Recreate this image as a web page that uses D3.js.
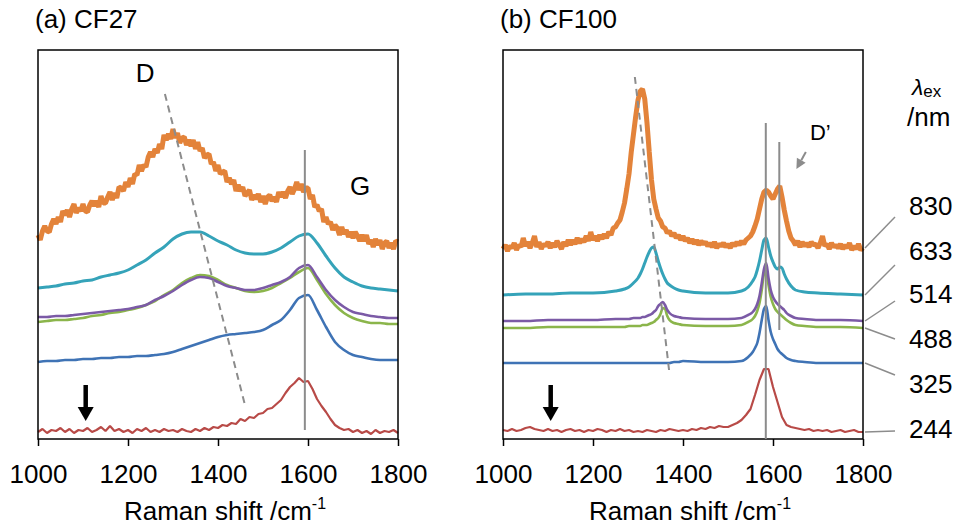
<!DOCTYPE html>
<html>
<head>
<meta charset="utf-8">
<script src="https://cdn.jsdelivr.net/npm/d3@7"></script>
<style>
  body { margin: 0; background: #fff; }
  text { font-family: "Liberation Sans", Arial, sans-serif; fill: #000; }
</style>
</head>
<body>
<svg id="chart" width="958" height="528"></svg>
<script>
// Raman spectra of two carbon fibres at six excitation wavelengths.
// Intensities are arbitrary units with the vertical stacking offset already in.

const panelTitles = ['(a) CF27', '(b) CF100'];
const tickValues = [1000, 1200, 1400, 1600, 1800];
const lambdaLabels = ['830', '633', '514', '488', '325', '244'];

// wavenumber grids (cm-1)
const shiftFine = d3.range(1000, 1801, 5);
const shiftMid = d3.range(1000, 1801, 10);
const shiftA = d3.range(1000, 1801, 20);
const shiftB = [1000, 1050, 1100, 1150, 1200, 1250, 1270, 1280, 1290, 1300,
  1305, 1310, 1315, 1320, 1325, 1330, 1335, 1340, 1345, 1350, 1355, 1360, 1365, 1370,
  1380, 1390, 1400, 1450, 1500, 1530,
  1545, 1555, 1560, 1565, 1570, 1575, 1580, 1585, 1590, 1595, 1600, 1605, 1610,
  1615, 1620, 1625, 1630, 1640, 1650, 1670, 1700, 1750, 1800];

// (a) CF27
const cf27_830 = [
  204, 199, 208, 213, 208, 207, 215, 220, 215, 222,
  217, 228, 224, 229, 222, 230, 235, 226, 231, 228,
  235, 228, 227, 234, 238, 233, 238, 232, 243, 236,
  236, 242, 247, 239, 246, 241, 252, 251, 248, 257,
  252, 261, 255, 265, 264, 274, 268, 274, 272, 282,
  287, 282, 290, 286, 295, 290, 304, 299, 305, 300,
  310, 301, 306, 296, 301, 302, 294, 299, 293, 299,
  290, 297, 288, 291, 281, 284, 285, 275, 277, 268,
  274, 265, 267, 268, 257, 261, 255, 259, 248, 254,
  248, 252, 243, 246, 249, 239, 244, 240, 245, 237,
  243, 235, 242, 244, 238, 242, 237, 247, 242, 247,
  241, 248, 252, 245, 250, 257, 249, 255, 247, 251,
  251, 240, 244, 232, 234, 228, 230, 217, 222, 215,
  217, 209, 214, 211, 204, 212, 205, 209, 202, 207,
  201, 207, 203, 198, 204, 198, 204, 195, 199, 192,
  200, 194, 199, 190, 196, 198, 191, 196, 190, 198,
  197];
const cf27_633 = [151, 152, 153, 155, 156, 158, 159, 162, 164, 166,
  169, 174, 179, 186, 192, 200, 205, 207, 207, 203,
  198, 194, 189, 186, 185, 185, 187, 191, 197, 203,
  205, 196, 183, 171, 162, 157, 153, 151, 150, 149, 148];
const cf27_514 = [122, 122, 123, 123, 124, 125, 126, 127, 128, 129,
  130, 132, 134, 139, 143, 148, 154, 159, 162, 161,
  157, 153, 151, 149, 149, 151, 154, 157, 162, 171,
  174, 162, 149, 139, 132, 127, 125, 123, 122, 121, 121];
const cf27_488 = [117, 118, 119, 119, 120, 121, 123, 124, 126, 127,
  129, 131, 134, 138, 144, 149, 156, 161, 164, 163,
  159, 154, 151, 148, 147, 148, 151, 156, 161, 167,
  171, 159, 145, 134, 126, 121, 118, 116, 116, 115, 115];
const cf27_325 = [77, 78, 78, 79, 79, 80, 80, 81, 81, 82,
  82, 83, 83, 84, 85, 87, 90, 93, 96, 99,
  102, 104, 105, 106, 107, 109, 114, 119, 129, 141,
  144, 129, 112, 97, 89, 84, 82, 80, 79, 79, 79];
const cf27_244 = [
  7, 10, 6, 9, 8, 11, 7, 10, 6, 9,
  8, 11, 7, 9, 12, 8, 13, 8, 10, 7,
  9, 6, 10, 8, 11, 7, 9, 7, 10, 8,
  9, 7, 10, 8, 7, 10, 8, 11, 9, 12,
  11, 14, 13, 16, 15, 20, 18, 22, 21, 25,
  26, 30, 31, 35, 39, 46, 52, 56, 61, 57,
  58, 50, 40, 33, 27, 20, 14, 11, 9, 10,
  7, 9, 6, 8, 5, 9, 6, 8, 7, 9,
  6];

// (b) CF100
const cf100_830 = [
  190, 194, 188, 193, 191, 196, 189, 194, 192, 201,
  193, 197, 191, 196, 203, 192, 197, 190, 195, 193,
  197, 191, 196, 192, 198, 194, 190, 197, 193, 199,
  194, 199, 195, 201, 196, 200, 197, 203, 198, 207,
  199, 203, 198, 204, 200, 205, 201, 207, 204, 211,
  212, 216, 219, 227, 236, 250, 265, 287, 305, 323,
  339, 348, 350, 340, 316, 287, 259, 240, 230, 221,
  218, 212, 211, 206, 208, 203, 206, 201, 204, 199,
  203, 198, 201, 196, 200, 195, 199, 194, 198, 195,
  197, 193, 196, 192, 197, 191, 195, 193, 196, 192,
  195, 191, 196, 193, 197, 194, 198, 195, 199, 201,
  203, 207, 213, 220, 230, 240, 247, 249, 247, 243,
  240, 245, 250, 253, 242, 229, 218, 208, 201, 198,
  194, 198, 192, 197, 193, 196, 192, 197, 194, 195,
  191, 196, 203, 193, 195, 190, 196, 192, 194, 191,
  195, 190, 194, 191, 196, 189, 193, 190, 195, 189,
  191];
const cf100_633 = [144, 145, 145, 146, 146, 148, 150, 152, 156, 161,
  165, 170, 176, 182, 187, 191, 192, 186, 178, 171, 165, 160, 156, 154,
  151, 149, 148, 146, 146, 148,
  152, 158, 162, 169, 178, 189, 199, 201, 192, 183, 177, 172, 170,
  172, 171, 165, 160, 153, 149, 147, 146, 145, 144];
const cf100_514 = [118, 118, 119, 119, 119, 120, 120, 120, 121, 121,
  121, 122, 122, 123, 124, 125, 127, 129, 133, 135, 137, 134, 129, 126,
  123, 122, 121, 120, 120, 121,
  124, 127, 130, 135, 143, 156, 170, 176, 161, 149, 142, 138, 135,
  133, 131, 129, 126, 123, 121, 120, 119, 119, 118];
const cf100_488 = [111, 111, 112, 112, 112, 112, 112, 113, 113, 113,
  113, 114, 114, 114, 115, 116, 117, 119, 121, 125, 131, 130, 123, 119,
  116, 115, 114, 113, 113, 114,
  117, 120, 123, 128, 136, 149, 165, 168, 154, 142, 135, 130, 127,
  125, 123, 121, 119, 116, 114, 113, 112, 112, 111];
const cf100_325 = [76, 76, 76, 76, 76, 76, 76, 76, 76, 76,
  76, 76, 76, 76, 76, 76, 76, 76, 76, 76, 76, 76, 76, 76,
  77, 77, 78, 77, 77, 78,
  82, 87, 91, 96, 106, 119, 130, 133, 119, 107, 100, 95, 90,
  87, 85, 83, 81, 79, 78, 77, 76, 76, 76];
const cf100_244 = [
  9, 8, 10, 8, 9, 11, 12, 10, 9, 8,
  10, 8, 9, 7, 9, 10, 8, 9, 7, 9,
  8, 10, 9, 7, 9, 8, 10, 8, 9, 7,
  8, 7, 9, 8, 7, 9, 8, 10, 9, 8,
  9, 8, 10, 9, 11, 10, 12, 11, 13, 12,
  12, 14, 16, 19, 24, 30, 44, 59, 70, 70,
  52, 37, 22, 14, 12, 11, 10, 9, 10, 8,
  9, 8, 9, 7, 8, 9, 7, 8, 9, 7,
  7];

// guide lines, [shift, intensity] pairs
const dLineA = [[1282, 345], [1460, 34]];
const gLineA = [[1593, 289], [1593, 9]];
const dLineB = [[1293, 362], [1369, 69]];
const gLineB = [[1584, 316], [1584, 0]];
const dPrimeLineB = [[1614, 297], [1614, 109]];

// styles
const colors = {
  '830': '#e3833a', '633': '#35a3b9', '514': '#7b5aa6',
  '488': '#8bb54b', '325': '#3f73b5', '244': '#b84a47',
};
const widths = { '830': 5, '633': 3, '514': 2.6, '488': 2.6, '325': 2.6, '244': 2.2 };
const guideGrey = '#8c8c8c';

const panels = [
  {
    title: panelTitles[0], left: 38,
    series: [
      { lambda: '244', x: shiftMid, y: cf27_244, smooth: false },
      { lambda: '325', x: shiftA, y: cf27_325, smooth: true },
      { lambda: '488', x: shiftA, y: cf27_488, smooth: true },
      { lambda: '514', x: shiftA, y: cf27_514, smooth: true },
      { lambda: '633', x: shiftA, y: cf27_633, smooth: true },
      { lambda: '830', x: shiftFine, y: cf27_830, smooth: false },
    ],
  },
  {
    title: panelTitles[1], left: 503,
    series: [
      { lambda: '244', x: shiftMid, y: cf100_244, smooth: false },
      { lambda: '325', x: shiftB, y: cf100_325, smooth: true },
      { lambda: '488', x: shiftB, y: cf100_488, smooth: true },
      { lambda: '514', x: shiftB, y: cf100_514, smooth: true },
      { lambda: '633', x: shiftB, y: cf100_633, smooth: true },
      { lambda: '830', x: shiftFine, y: cf100_830, smooth: false },
    ],
  },
];

const dims = { top: 50, bottom: 439, width: 360 };

const svg = d3.select('#chart');
const y = d3.scaleLinear().domain([0, 389]).range([dims.bottom, dims.top]);

const drawArrow = (g, x1, y1, x2, y2, color, shaft, headLen, headW) => {
    const ang = Math.atan2(y2 - y1, x2 - x1);
    const bx = x2 - headLen * Math.cos(ang);
    const by = y2 - headLen * Math.sin(ang);
    g.append('line')
        .attr('x1', x1).attr('y1', y1).attr('x2', bx).attr('y2', by)
        .attr('stroke', color).attr('stroke-width', shaft);
    const px = -Math.sin(ang) * headW / 2;
    const py = Math.cos(ang) * headW / 2;
    g.append('polygon')
        .attr('points', `${x2},${y2} ${bx + px},${by + py} ${bx - px},${by - py}`)
        .attr('fill', color);
};

const xScales = panels.map((p) => {
    const x = d3.scaleLinear().domain([1000, 1800]).range([p.left, p.left + dims.width]);
    const g = svg.append('g');

    // spectra
    p.series.forEach((s) => {
        const line = d3.line()
            .x((d, i) => x(s.x[i]))
            .y((d) => y(d))
            .curve(s.smooth ? d3.curveMonotoneX : d3.curveLinear);
        g.append('path')
            .datum(s.y)
            .attr('d', line)
            .attr('fill', 'none')
            .attr('stroke', colors[s.lambda])
            .attr('stroke-width', widths[s.lambda])
            .attr('stroke-linejoin', 'bevel');
    });

    // frame
    g.append('rect')
        .attr('x', p.left).attr('y', dims.top)
        .attr('width', dims.width).attr('height', dims.bottom - dims.top)
        .attr('fill', 'none').attr('stroke', '#000').attr('stroke-width', 1.5);

    // x axis
    const axis = g.append('g')
        .attr('transform', `translate(0,${dims.bottom})`)
        .call(d3.axisBottom(x)
            .tickValues(tickValues)
            .tickFormat(d3.format('d'))
            .tickSize(7)
            .tickPadding(19));
    axis.select('.domain').remove();
    axis.selectAll('.tick line').attr('stroke', '#000').attr('stroke-width', 1.5);
    axis.selectAll('.tick text')
        .attr('font-size', 26)
        .attr('font-family', '"Liberation Sans", Arial, sans-serif');

    const title = g.append('text')
        .attr('x', p.left + dims.width / 2 + 7)
        .attr('y', 520)
        .attr('text-anchor', 'middle')
        .attr('font-size', 26)
        .text('Raman shift /cm');
    title.append('tspan')
        .attr('font-size', 16)
        .attr('dy', -11)
        .text('-1');

    g.append('text')
        .attr('x', p.left - 3)
        .attr('y', 28)
        .attr('font-size', 26)
        .text(p.title);

    // black arrow near 1100 cm-1
    drawArrow(g, x(1106), y(54), x(1106), y(18), '#000', 4.5, 14, 16);

    return x;
});

const [xA, xB] = xScales;

const guide = (x, pts, dashed) => {
    svg.append('line')
        .attr('x1', x(pts[0][0])).attr('y1', y(pts[0][1]))
        .attr('x2', x(pts[1][0])).attr('y2', y(pts[1][1]))
        .attr('stroke', guideGrey)
        .attr('stroke-width', 2)
        .attr('stroke-dasharray', dashed ? '7,5' : null);
};

guide(xA, dLineA, true);
guide(xA, gLineA, false);
guide(xB, dLineB, true);
guide(xB, gLineB, false);
guide(xB, dPrimeLineB, false);

// band labels
svg.append('text').attr('x', xA(1238)).attr('y', y(357))
    .attr('text-anchor', 'middle').attr('font-size', 26).text('D');
svg.append('text').attr('x', xA(1716)).attr('y', y(244))
    .attr('text-anchor', 'middle').attr('font-size', 26).text('G');
svg.append('text').attr('x', xB(1682)).attr('y', y(299))
    .attr('font-size', 22).text('D\u2019');
drawArrow(svg, xB(1673), y(287), xB(1652), y(270), guideGrey, 2, 10, 10);

// excitation wavelength labels and leader lines
const lab = svg.append('g');
const lambdaHead = lab.append('text').attr('x', 912).attr('y', 95);
lambdaHead.append('tspan').attr('font-size', 23).attr('font-style', 'italic').text('\u03bb');
lambdaHead.append('tspan').attr('font-size', 17).attr('dy', 2).text('ex');
lab.append('text').attr('x', 907).attr('y', 126).attr('font-size', 26).text('/nm');

const labelBaseY = [215, 260, 303, 348, 393, 438];
const leaderEndY = [217, 265, 301, 339, 375, 431];
const lastValue = (lambda) => {
    const s = panels[1].series.find((d) => d.lambda === lambda);
    return s.y[s.y.length - 1];
};

lambdaLabels.forEach((l, i) => {
    lab.append('line')
        .attr('x1', xB(1800) + 2).attr('y1', y(lastValue(l)))
        .attr('x2', 895).attr('y2', leaderEndY[i])
        .attr('stroke', guideGrey).attr('stroke-width', 1.5);
    lab.append('text')
        .attr('x', 909).attr('y', labelBaseY[i])
        .attr('font-size', 26)
        .text(l);
});
</script>
</body>
</html>
